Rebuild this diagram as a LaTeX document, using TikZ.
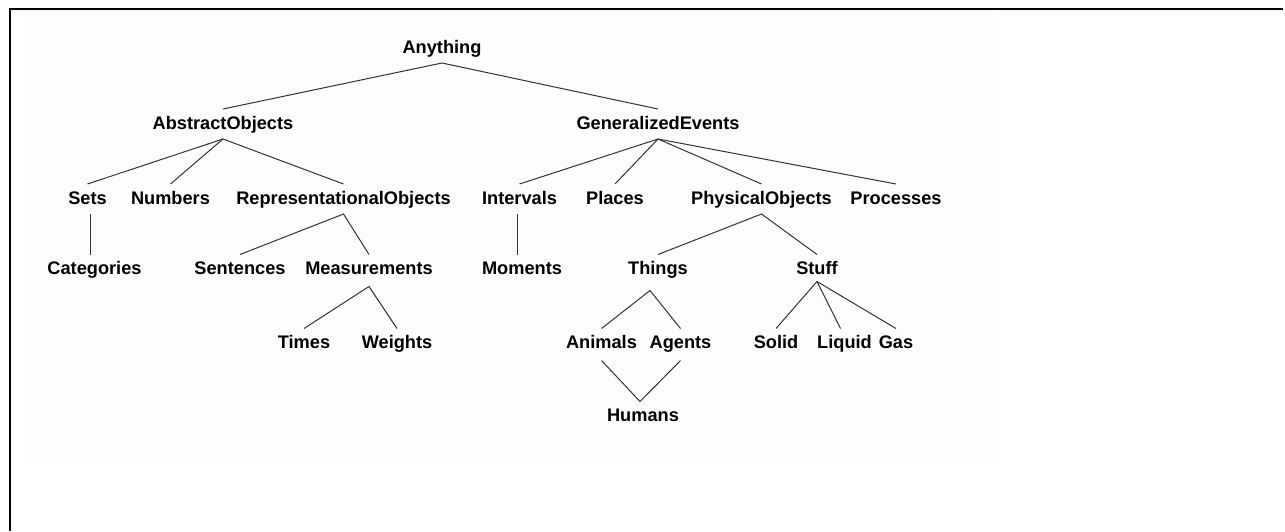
\documentclass[tikz,border=0pt]{standalone}
\usepackage{fontspec}
\setmainfont{Liberation Sans}
\begin{document}
\begin{tikzpicture}[x=1pt,y=-1pt,
  concept/.style={anchor=base, inner sep=0pt, outer sep=0pt,
    text height=20pt, text depth=10pt,
    font=\bfseries\fontsize{18.2}{20}\selectfont},
  link/.style={line width=1pt, draw=black!80},
  frame/.style={line width=2pt, draw=black}]
\useasboundingbox (0,0) rectangle (1285,531);
% page background and frame
\fill[black!0.6] (28,10) rectangle (995,464);
\draw[frame] (9,9) -- (1283,9);
\draw[frame] (10,8) -- (10,531);

% level 0
\node[concept] (any) at (442,53) {Anything};
% level 1
\node[concept] (ao) at (223,129) {AbstractObjects};
\node[concept] (ge) at (658,129) {GeneralizedEvents};
% level 2
\node[concept] (sets) at (87.5,204) {Sets};
\node[concept] (num)  at (170.5,204) {Numbers};
\node[concept] (rep)  at (343.5,204) {RepresentationalObjects};
\node[concept] (int)  at (519.5,204) {Intervals};
\node[concept] (pla)  at (615,204) {Places};
\node[concept] (phy)  at (761.5,204) {PhysicalObjects};
\node[concept] (pro)  at (896,204) {Processes};
% level 3
\node[concept] (cat) at (94.5,274.5) {Categories};
\node[concept] (sen) at (240,274.5) {Sentences};
\node[concept] (mea) at (369,274.5) {Measurements};
\node[concept] (mom) at (522,274.5) {Moments};
\node[concept] (thi) at (658,274.5) {Things};
\node[concept] (stu) at (817,274.5) {Stuff};
% level 4
\node[concept] (tim) at (304,348.5) {Times};
\node[concept] (wei) at (397,348.5) {Weights};
\node[concept] (ani) at (601.5,348.5) {Animals};
\node[concept] (age) at (680.5,348.5) {Agents};
\node[concept] (sol) at (776,348.5) {Solid};
\node[concept] (liq) at (844.5,348.5) {Liquid};
\node[concept] (gas) at (896,348.5) {Gas};
% level 5
\node[concept] (hum) at (643,421.5) {Humans};

% connectors
\draw[link] (ao.north) -- (any.south) -- (ge.north);
\draw[link] (sets.north) -- (ao.south) -- (rep.north);
\draw[link] (ao.south) -- (num.north);
\draw[link] (int.north) -- (ge.south) -- (pro.north);
\draw[link] (ge.south) -- (pla.north);
\draw[link] (ge.south) -- (phy.north);
\draw[link] ([xshift=2.5pt]sets.south) -- ([xshift=2.5pt]sets.south |- cat.north);
\draw[link] ([xshift=-2.5pt]int.south) -- ([xshift=-2.5pt]int.south |- mom.north);
\draw[link] (sen.north) -- (rep.south) -- (mea.north);
\draw[link] (thi.north) -- (phy.south) -- (stu.north);
\draw[link] (tim.north) -- ([yshift=-2pt]mea.south) -- (wei.north);
\draw[link] (ani.north) -- ([xshift=-8pt,yshift=-6pt]thi.south) -- (age.north);
\draw[link] (sol.north) -- ([yshift=3pt]stu.south) -- (gas.north);
\draw[link] ([yshift=3pt]stu.south) -- ([xshift=-4pt]liq.north);
\draw[link] ([yshift=-2pt]ani.south) -- ([xshift=-3pt]hum.north);
\draw[link] ([yshift=-2pt]age.south) -- ([xshift=-3pt]hum.north);
\end{tikzpicture}
\end{document}
